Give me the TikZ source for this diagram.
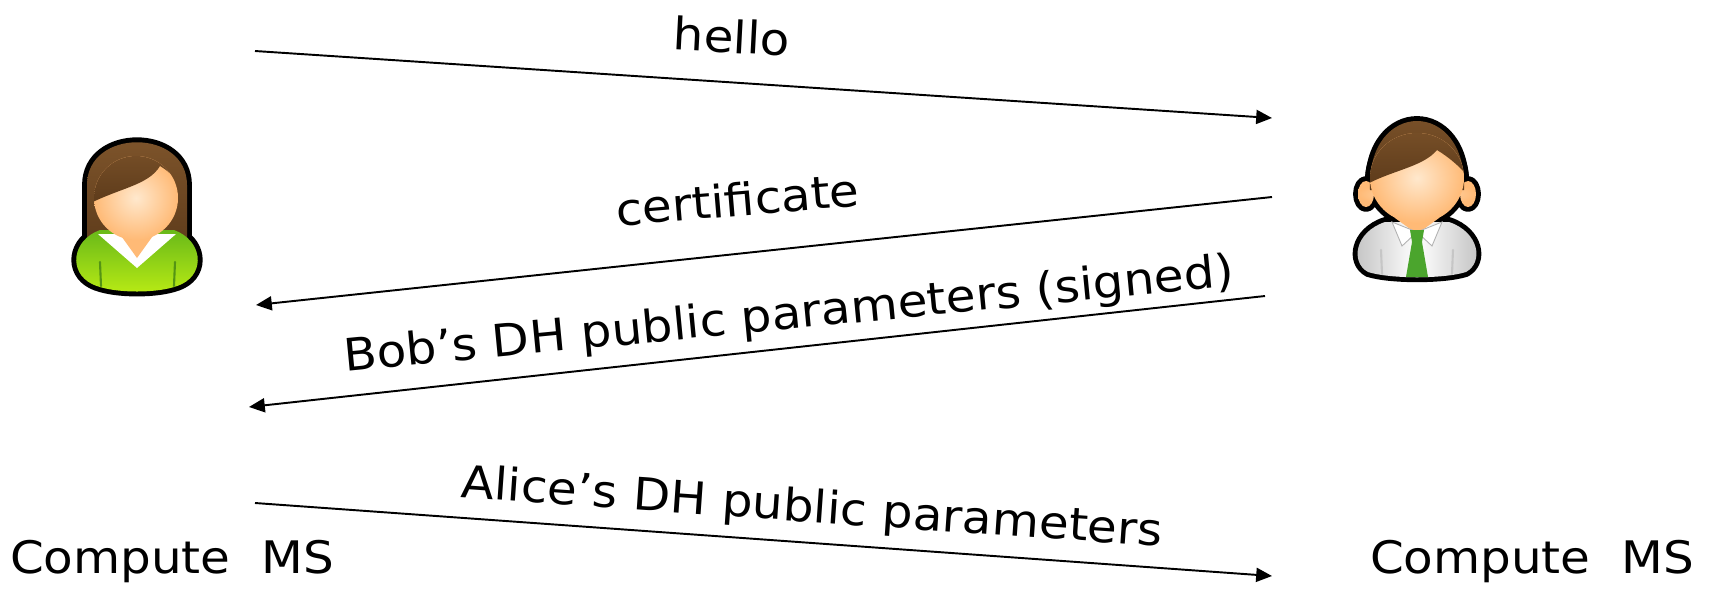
\documentclass[tikz,border=0pt]{standalone}
\usepackage{fontspec}
\setmainfont{DejaVu Sans}[FakeStretch=1.08]
\usetikzlibrary{arrows.meta}

\definecolor{hairbrown}{RGB}{92,58,26}
\definecolor{hairlight}{RGB}{128,86,44}
\definecolor{skin}{RGB}{255,186,118}
\definecolor{skinlight}{RGB}{255,232,205}
\definecolor{shirtdark}{RGB}{105,185,25}
\definecolor{shirtlight}{RGB}{185,235,20}
\definecolor{tiegreen}{RGB}{75,165,45}

\tikzstyle{msg} = [font=\fontsize{25.5}{30}\selectfont, inner sep=0pt, anchor=base]
\tikzstyle{arrow} = [line width=1.1pt, -{Triangle[length=9pt, width=8pt]}]
\tikzstyle{silhouette} = [draw=black, fill=black, line width=5.6pt, line join=round]
\tikzstyle{hair} = [top color=hairlight, bottom color=hairbrown]
\tikzstyle{face} = [inner color=skinlight, outer color=skin]
\tikzstyle{fold} = [line width=1.2pt, line cap=round]

% the two people, in pixel units
\newcommand{\alicehair}{(87,255) -- (87,185) .. controls (87,128) and (187,128) .. (187,185) -- (187,255) -- cycle}
\newcommand{\alicebody}{(100,230) .. controls (72,240) and (68,272) .. (92,284) .. controls (112,294) and (162,294) .. (182,284) .. controls (206,272) and (202,240) .. (174,230) -- cycle}
\newcommand{\aliceface}{(136,198) ellipse [x radius=42, y radius=42]}
\newcommand{\bobhair}{(1370,190) .. controls (1366,98) and (1468,98) .. (1464,190) -- cycle}
\newcommand{\bobbody}{(1385,222) .. controls (1355,232) and (1350,262) .. (1368,272) .. controls (1390,279) and (1444,279) .. (1466,272) .. controls (1484,262) and (1479,232) .. (1449,222) -- cycle}
\newcommand{\bobface}{(1417,178) ellipse [x radius=47, y radius=45]}
\newcommand{\bobears}{(1366,194) ellipse [x radius=8, y radius=13] (1468,194) ellipse [x radius=8, y radius=13]}

\begin{document}
\begin{tikzpicture}[x=0.02cm, y=-0.02cm]
    \useasboundingbox (0,0) rectangle (1715,596);

    % Alice
    \path[silhouette] \alicehair;
    \path[silhouette] \alicebody;
    \path[silhouette] \aliceface;
    \path[hair] \alicehair;
    \path[top color=shirtdark, bottom color=shirtlight] \alicebody;
    \draw[fold, shirtdark!80!black] (100,262) -- (101,286) (175,262) -- (174,286);
    \fill[white] (98,234) -- (137,268) -- (176,234) -- cycle;
    \fill[skin] (114,226) -- (137,258) -- (160,226) -- cycle;
    \path[face] \aliceface;
    \begin{scope}
      \clip \aliceface;
      \path[hair] (85,206) .. controls (118,188) and (148,186) .. (160,166)
        .. controls (170,172) and (178,180) .. (184,192) -- (184,130) -- (85,130) -- cycle;
    \end{scope}

    % Bob
    \path[silhouette] \bobears;
    \path[silhouette] \bobhair;
    \path[silhouette] \bobbody;
    \path[silhouette] \bobface;
    \path[face] \bobears;
    \path[hair] \bobhair;
    \path[left color=gray!50, right color=gray!50, middle color=white] \bobbody;
    \draw[fold, gray!45] (1381,250) -- (1382,274) (1453,250) -- (1452,274);
    \fill[skin] (1395,218) -- (1417,234) -- (1439,218) -- cycle;
    \filldraw[fill=white, draw=gray!60, line width=0.5pt] (1392,222) -- (1417,232) -- (1402,246) -- cycle;
    \filldraw[fill=white, draw=gray!60, line width=0.5pt] (1442,222) -- (1417,232) -- (1432,246) -- cycle;
    \fill[tiegreen] (1410,230) -- (1424,230) -- (1422,242) -- (1412,242) -- cycle;
    \fill[tiegreen] (1412,242) -- (1422,242) -- (1428,277) -- (1406,277) -- cycle;
    \path[face] \bobface;
    \begin{scope}
      \clip \bobface;
      \path[hair] (1360,188) .. controls (1390,170) and (1422,168) .. (1437,150)
        .. controls (1450,158) and (1462,168) .. (1472,182) -- (1472,110) -- (1360,110) -- cycle;
    \end{scope}

    % message ends
    \coordinate (hello-from) at (255,51);
    \coordinate (hello-to) at (1272,118);
    \coordinate (cert-from) at (1272,197);
    \coordinate (cert-to) at (256,305);
    \coordinate (bobdh-from) at (1265,296);
    \coordinate (bobdh-to) at (249,407);
    \coordinate (alicedh-from) at (255,503);
    \coordinate (alicedh-to) at (1272,576);

    \draw [arrow] (hello-from) -- (hello-to);
    \draw [arrow] (cert-from) -- (cert-to);
    \draw [arrow] (bobdh-from) -- (bobdh-to);
    \draw [arrow] (alicedh-from) -- (alicedh-to);

    \node (hello) [msg, rotate=-3] at (731,53) {hello};
    \node (cert) [msg, rotate=4.8] at (739,216) {certificate};
    \node (bobdh) [msg, rotate=5.5] at (790,329) {Bob’s DH public parameters (signed)};
    \node (alicedh) [msg, rotate=-4] at (811,522) {Alice’s DH public parameters};
    \node (alice-ms) [msg] at (172,573) {Compute\ \ MS};
    \node (bob-ms) [msg] at (1532,573) {Compute\ \ MS};
\end{tikzpicture}
\end{document}
